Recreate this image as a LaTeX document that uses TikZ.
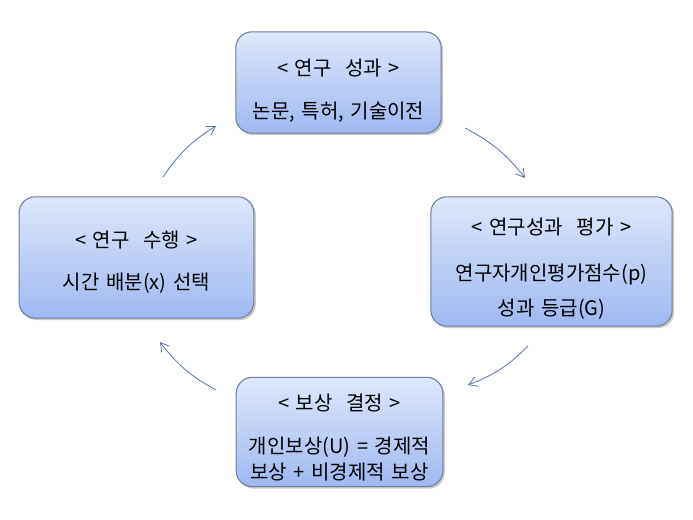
\documentclass[tikz,border=0pt]{standalone}
\usepackage{fontspec}
\setmainfont[WordSpace=1.5]{Noto Sans CJK KR}
\usepackage{xcolor}
\usetikzlibrary{positioning,arrows.meta,shadows}

\definecolor{boxline}{RGB}{110,125,160}
\definecolor{boxtop}{RGB}{222,232,252}
\definecolor{boxbot}{RGB}{158,184,240}
\definecolor{arrcol}{RGB}{85,115,165}

% strut that pushes the text block down inside its box
\newcommand{\lift}[1]{\rule{0pt}{#1}}

\begin{document}
\begin{tikzpicture}[
  x=0.75pt, y=-0.75pt,
  box/.style={draw=boxline, line width=0.8pt, rounded corners=12pt, top color=boxtop, bottom color=boxbot,
    drop shadow={shadow xshift=1.5pt, shadow yshift=-1.5pt, fill=black!35, opacity=0.6},
    align=center, font=\fontsize{15}{20}\selectfont, inner sep=0pt},
  arr/.style={-{Straight Barb[length=2.2mm, width=2.6mm]}, draw=arrcol, line width=0.6pt},
]
\useasboundingbox (0,0) rectangle (693,519);

\node[box, minimum width=154pt, minimum height=76pt] (result) at (338.5,82.5) {\lift{25pt}<\ 연구\ \ 성과\ >\\[12pt]논문, 특허, 기술이전};
\node[box, minimum width=176pt, minimum height=91pt] (work) at (136.5,257.5) {\lift{20pt}<\ 연구\ \ 수행\ >\\[11.5pt]시간 배분(x) 선택};
\node[box, minimum width=181pt, minimum height=97pt] (eval) at (551.5,261.5) {\lift{23pt}<\ 연구성과\ \ 평가\ >\\[15pt]연구자개인평가점수(p)\\[6pt]성과 등급(G)};
\node[box, minimum width=155pt, minimum height=82pt] (reward) at (339.5,432) {\lift{21pt}<\ 보상\ \ 결정\ >\\[12pt]개인보상(U) = 경제적\\보상 + 비경제적 보상};

\coordinate (a1s) at (163,177);
\coordinate (a1e) at (216,126);
\coordinate (a2s) at (465,128);
\coordinate (a2e) at (525,178);
\coordinate (a3s) at (528,346);
\coordinate (a3e) at (468,385);
\coordinate (a4s) at (216,390);
\coordinate (a4e) at (160,342);

\draw[arr] (a1s) to[bend left=12] (a1e);
\draw[arr] (a2s) to[bend left=12] (a2e);
\draw[arr] (a3s) to[bend left=12] (a3e);
\draw[arr] (a4s) to[bend left=12] (a4e);
\end{tikzpicture}
\end{document}
